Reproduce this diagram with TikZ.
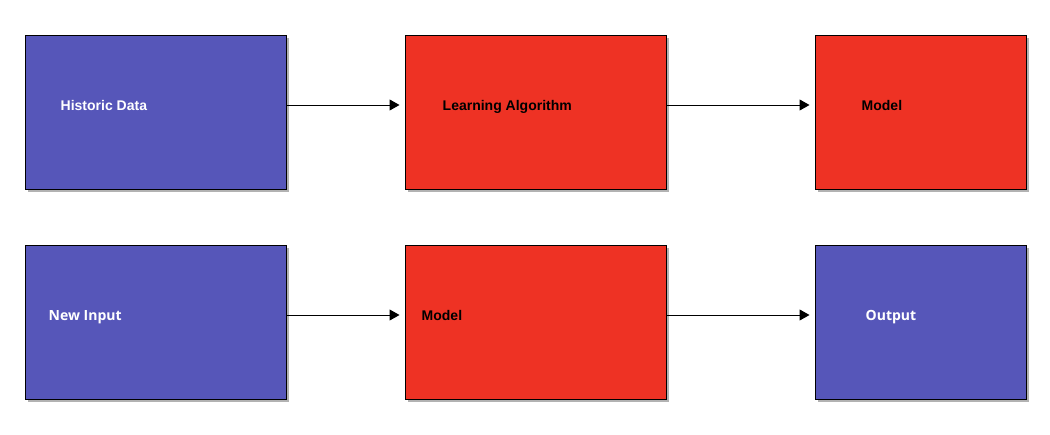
\documentclass[tikz,border=0pt]{standalone}
\usepackage{fontspec}
\setmainfont{Liberation Sans}
\newfontfamily\opensans{Open Sans}
\usetikzlibrary{arrows.meta,positioning,shadows}
\definecolor{blockblue}{RGB}{86,86,185}
\definecolor{blockred}{RGB}{238,50,36}
\tikzset{%
  >={Triangle[width=11pt,length=10pt]},
  % Specifications for style of nodes:
        block/.style = {rectangle, draw=black, line width=1pt,
                        minimum height=154pt,
                        drop shadow={shadow xshift=2.5pt, shadow yshift=-2.5pt,
                                     fill=black, opacity=0.3}},
    blueblock/.style = {block, fill=blockblue, minimum width=261pt},
     redblock/.style = {block, fill=blockred, minimum width=261pt},
          lbl/.style = {inner sep=0pt, text height=10pt, text depth=0pt,
                        font=\bfseries\fontsize{14}{16}\selectfont}
                        }

\begin{document}
\begin{tikzpicture}[x=1pt, y=-1pt]
                    \useasboundingbox (0,0) rectangle (1050,434);

                    % training row
                    \node (hist)  [blueblock]                     at (155.5,112) {};
                    \node (algo)  [redblock]                      at (535.5,112) {};
                    \node (model) [redblock, minimum width=211pt] at (920.5,112) {};

                    % prediction row
                    \node (input)  [blueblock]                      at (155.5,322) {};
                    \node (model2) [redblock]                       at (535.5,322) {};
                    \node (output) [blueblock, minimum width=211pt] at (920.5,322) {};

                    \node (histtxt)   [lbl, text=white, right=36pt of hist.west, yshift=7pt]   {Historic Data};
                    \node (algotxt)   [lbl, right=38pt of algo.west, yshift=7pt]               {Learning Algorithm};
                    \node (modeltxt)  [lbl, right=47pt of model.west, yshift=7pt]              {Model};
                    \node (inputtxt)  [lbl, text=white, right=24pt of input.west, yshift=7pt]  {\opensans New Input};
                    \node (model2txt) [lbl, right=17pt of model2.west, yshift=7pt]             {Model};
                    \node (outputtxt) [lbl, text=white, right=51pt of output.west, yshift=7pt] {\opensans Output};

                    \draw[->, line width=1pt, shorten >=5pt]  ([yshift=7pt]hist.east)   -- ([yshift=7pt]algo.west);
                    \draw[->, line width=1pt, shorten >=5pt]  ([yshift=7pt]algo.east)   -- ([yshift=7pt]model.west);
                    \draw[->, line width=1pt, shorten >=5pt]  ([yshift=7pt]input.east)  -- ([yshift=7pt]model2.west);
                    \draw[->, line width=1pt, shorten >=5pt]  ([yshift=7pt]model2.east) -- ([yshift=7pt]output.west);
                \end{tikzpicture}
\end{document}
